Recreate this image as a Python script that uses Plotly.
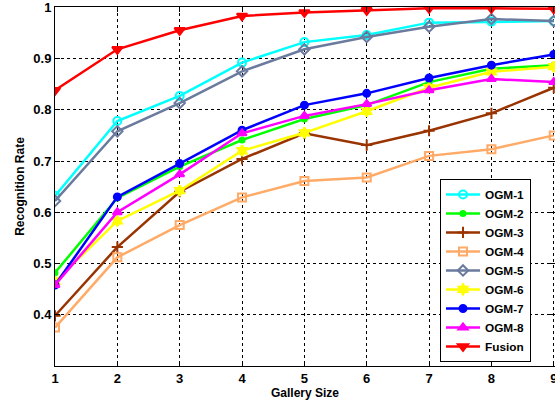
import plotly.graph_objects as go

gallery = [1, 2, 3, 4, 5, 6, 7, 8, 9]
names = ["OGM-1", "OGM-2", "OGM-3", "OGM-4", "OGM-5", "OGM-6", "OGM-7", "OGM-8", "Fusion"]

ogm1 = [0.632, 0.778, 0.827, 0.892, 0.932, 0.946, 0.970, 0.972, 0.973]
ogm2 = [0.482, 0.628, 0.689, 0.741, 0.782, 0.809, 0.854, 0.880, 0.887]
ogm3 = [0.398, 0.532, 0.640, 0.704, 0.754, 0.731, 0.759, 0.793, 0.843]
ogm4 = [0.375, 0.512, 0.575, 0.629, 0.661, 0.668, 0.710, 0.723, 0.750]
ogm5 = [0.622, 0.758, 0.813, 0.875, 0.918, 0.942, 0.962, 0.977, 0.973]
ogm6 = [0.465, 0.583, 0.642, 0.720, 0.755, 0.797, 0.843, 0.874, 0.884]
ogm7 = [0.458, 0.630, 0.695, 0.760, 0.809, 0.832, 0.862, 0.887, 0.908]
ogm8 = [0.458, 0.600, 0.674, 0.754, 0.788, 0.811, 0.838, 0.860, 0.854]
fusion = [0.838, 0.918, 0.955, 0.983, 0.990, 0.994, 0.998, 0.998, 0.997]

series = [ogm1, ogm2, ogm3, ogm4, ogm5, ogm6, ogm7, ogm8, fusion]
colors = ["#00FFFF", "#00FF00", "#993300", "#FFAA66", "#6B7B9E",
          "#FFFF00", "#0000FF", "#FF00FF", "#FF0000"]
symbols = ["circle-open", "circle", "cross-thin-open", "square-open", "diamond-open",
           "hexagram", "circle", "triangle-up", "triangle-down"]
sizes = [8, 5, 8, 8, 8, 8, 7, 8, 9]

fig = go.Figure()
for name, ys, c, s, sz in zip(names, series, colors, symbols, sizes):
    fig.add_trace(go.Scatter(
        x=gallery, y=ys, name=name, mode="lines+markers",
        line=dict(color=c, width=2.5),
        marker=dict(symbol=s, size=sz, color=c, line=dict(color=c, width=2)),
    ))

axis_common = dict(
    showline=True, linecolor="black", linewidth=1, mirror="ticks",
    ticks="inside", ticklen=5, tickcolor="black",
    showgrid=True, gridcolor="black", gridwidth=1, griddash="dot",
    zeroline=False, automargin=False, ticklabeloverflow="allow",
    tickfont=dict(family="Liberation Sans", size=13, color="black", weight="bold"),
)

fig.update_layout(
    width=555, height=404,
    margin=dict(l=55, r=0, t=7, b=38),
    paper_bgcolor="white", plot_bgcolor="white",
    font=dict(family="Liberation Sans", color="black", weight="bold"),
    xaxis=dict(range=[1, 9.02], tickvals=gallery, ticktext=[str(g) for g in gallery],
               title=dict(text="Gallery Size", standoff=2,
                          font=dict(family="Liberation Sans", size=12, weight="bold")),
               **axis_common),
    yaxis=dict(range=[0.3, 1.0005], tickvals=[0.4, 0.5, 0.6, 0.7, 0.8, 0.9, 1.0],
               ticktext=["0.4", "0.5", "0.6", "0.7", "0.8", "0.9", "1"],
               title=dict(text="Recognition Rate", standoff=6,
                          font=dict(family="Liberation Sans", size=12, weight="bold")),
               **axis_common),
    legend=dict(x=0.77, y=0.521, xanchor="left", yanchor="top",
                bgcolor="white", bordercolor="black", borderwidth=1,
                font=dict(family="Liberation Sans", size=11.8, weight="bold"),
                tracegroupgap=0, itemwidth=34),
    showlegend=True,
)

fig.write_html("out.html", config={"displayModeBar": False},
               post_script="document.body.style.margin='0px';")
